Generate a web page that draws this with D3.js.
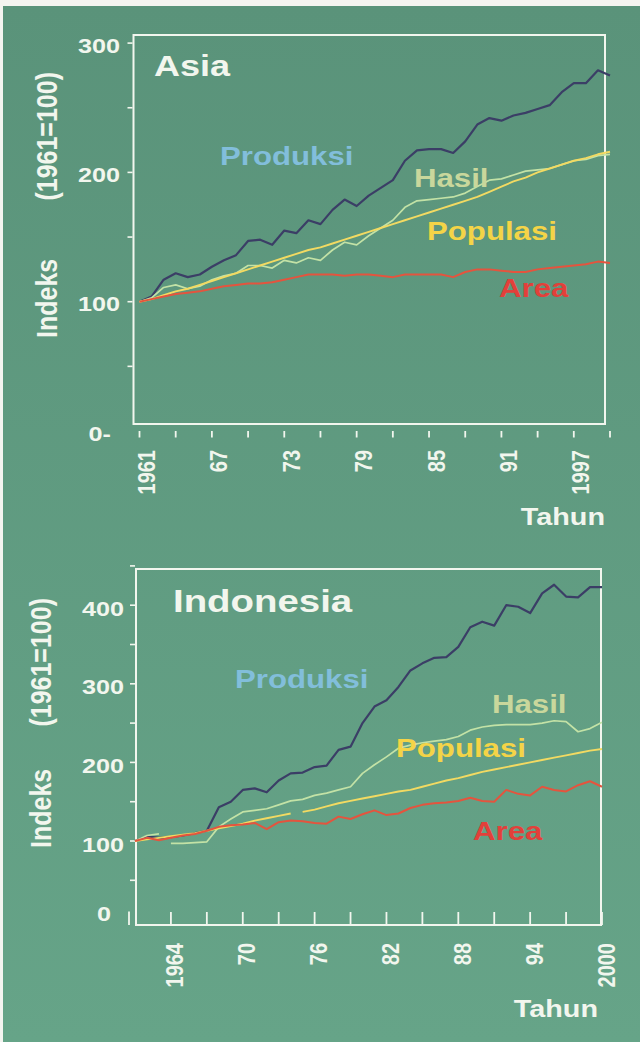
<!DOCTYPE html>
<html>
<head>
<meta charset="utf-8">
<script src="https://cdn.jsdelivr.net/npm/d3@7/dist/d3.min.js"></script>
<style>
  body { margin: 0; background: #f4f4f0; }
  svg { display: block; }
  text { font-family: "Liberation Sans", Arial, sans-serif; font-weight: bold; }
</style>
</head>
<body>
<div id="chart"></div>
<script>
// data (index, 1961 = 100)
const years = [1961,1962,1963,1964,1965,1966,1967,1968,1969,1970,
               1971,1972,1973,1974,1975,1976,1977,1978,1979,1980,
               1981,1982,1983,1984,1985,1986,1987,1988,1989,1990,
               1991,1992,1993,1994,1995,1996,1997,1998,1999,2000];

const asia_produksi = [100,104,117,122,119,121,127,132,136,147,
                       148,144,155,153,163,160,171,179,174,182,
                       188,194,209,217,218,218,215,224,237,242,
                       240,244,246,249,252,262,269,269,279,275];
const asia_hasil    = [100,103,111,113,110,112,117,120,122,128,
                       128,126,132,130,134,132,140,146,144,151,
                       157,163,173,178,179,180,181,184,189,194,
                       195,198,201,202,203,206,209,210,213,214];
const asia_populasi = [100,102,105,108,110,113,116,119,122,125,
                       128,131,134,137,140,142,145,148,151,154,
                       157,160,163,166,169,172,175,178,181,185,
                       189,193,196,200,203,206,209,211,214,216];
const asia_area     = [100,102,104,106,107,108,110,112,113,114,
                       114,115,117,119,121,121,121,120,121,121,
                       120,119,121,121,121,121,119,123,125,125,
                       124,123,123,125,126,127,128,129,131,130];

const indo_produksi = [100,106,104,105,107,110,113,143,150,165,
                       167,162,177,186,187,194,196,216,220,250,
                       271,279,296,317,326,333,334,347,372,379,
                       374,400,398,390,415,426,411,410,423,423];
const indo_hasil    = [100,107,109,97,97,98,99,118,128,137,
                       139,141,146,151,153,158,161,165,169,186,
                       197,207,218,222,225,227,229,233,241,245,
                       247,248,248,248,250,253,252,239,243,251];
const indo_populasi = [100,102,104,106,108,110,113,116,119,122,
                       126,129,132,135,137,140,144,148,151,154,
                       157,160,163,165,169,173,177,180,184,188,
                       191,194,197,200,203,206,209,212,215,217];
const indo_area     = [100,104,101,104,107,109,113,118,120,121,
                       123,115,124,126,125,123,122,131,128,134,
                       139,133,135,142,146,148,149,151,155,151,
                       150,165,160,158,169,165,163,171,176,169];

// years after which a line is broken in the original
const indo_hasil_breaks = [1963];
const indo_populasi_breaks = [1974];

// ticks and labels
const asia_x_ticks = [1961,1964,1967,1970,1973,1976,1979,1982,1985,1988,1991,1994,1997,2000];
const asia_x_label_years = [1961,1967,1973,1979,1985,1991,1997];
const asia_x_labels = ["1961","67","73","79","85","91","1997"];
const asia_y_ticks = [50,100,150,200,250,300];
const asia_y_labels = [0,100,200,300];

const indo_x_ticks = [1964,1967,1970,1973,1976,1979,1982,1985,1988,1991,1994,1997,2000];
const indo_x_label_years = [1964,1970,1976,1982,1988,1994,2000];
const indo_x_labels = ["1964","70","76","82","88","94","2000"];
const indo_y_ticks = [50,100,150,200,250,300,350,400,450];
const indo_y_labels = [0,100,200,300,400];

const series_names = ["Produksi","Hasil","Populasi","Area"];

// styles
const W = 640, H = 1042;
const SX = 1.2;   // the lettering in the scan is wider than normal
const TXT = "#f2f6ee";
const line_colors  = {Produksi: "#3b3e66", Hasil: "#c3e2a6", Populasi: "#f2da62", Area: "#e4543e"};
const label_colors = {Produksi: "#82bedb", Hasil: "#c9d79c", Populasi: "#f4d447", Area: "#e2403a"};
const line_widths  = {Produksi: 2.2, Hasil: 1.7, Populasi: 1.9, Area: 2};

const svg = d3.select("#chart").append("svg").attr("width", W).attr("height", H);

const grad = svg.append("defs").append("linearGradient")
    .attr("id", "bg").attr("x1", 0).attr("y1", 0).attr("x2", 0).attr("y2", 1);
grad.append("stop").attr("offset", "0%").attr("stop-color", "#5a937a");
grad.append("stop").attr("offset", "100%").attr("stop-color", "#66a488");

svg.append("rect").attr("x", 3).attr("y", 6).attr("width", W - 3).attr("height", H - 6).attr("fill", "url(#bg)");

function stretchText(g, str, x, y, o) {
    return g.append("text")
        .attr("transform", `translate(${x},${y}) scale(${SX},1)` + (o.rotate ? " rotate(-90)" : ""))
        .attr("text-anchor", o.anchor || "start")
        .attr("font-size", o.size)
        .attr("fill", o.fill || TXT)
        .text(str);
}

function splitSegments(values, breaks) {
    let segs = [[]];
    values.forEach((v, i) => {
        segs[segs.length - 1].push({year: years[i], v: v});
        if (breaks.includes(years[i])) segs.push([]);
    });
    return segs;
}

let drawPanel = function(cfg) {
    const g = svg.append("g");
    const x = d3.scaleLinear().domain([1961, 2000]).range(cfg.xRange);
    const y = d3.scaleLinear().domain([0, cfg.yMax]).range(cfg.yRange);

    // frame
    g.append("rect")
        .attr("x", cfg.frame[0]).attr("y", cfg.frame[1])
        .attr("width", cfg.frame[2] - cfg.frame[0]).attr("height", cfg.frame[3] - cfg.frame[1])
        .attr("fill", "none").attr("stroke", TXT).attr("stroke-width", 2);

    // y ticks
    g.selectAll(".ytick").data(cfg.yTicks).enter().append("line")
        .attr("x1", cfg.frame[0] - 6).attr("x2", cfg.frame[0] - 1)
        .attr("y1", d => y(d)).attr("y2", d => y(d))
        .attr("stroke", TXT).attr("stroke-width", 1.6);

    cfg.yLabels.forEach(d => {
        if (d === 0) {
            stretchText(g, cfg.zeroText, cfg.zeroX, y(0) + cfg.zeroDy, {size: 21, anchor: "end"});
        } else {
            stretchText(g, d, cfg.yLabelX, y(d) + cfg.yLabelDy, {size: 21, anchor: "end"});
        }
    });
    if (cfg.zeroBar) {
        g.append("line").attr("x1", cfg.zeroBar).attr("x2", cfg.zeroBar)
            .attr("y1", y(0) - 8).attr("y2", cfg.frame[3])
            .attr("stroke", TXT).attr("stroke-width", 1.8);
    }

    // x ticks
    g.selectAll(".xtick").data(cfg.xTicks).enter().append("line")
        .attr("x1", d => x(d)).attr("x2", d => x(d))
        .attr("y1", cfg.xTickY[0]).attr("y2", cfg.xTickY[1])
        .attr("stroke", TXT).attr("stroke-width", 1.8);

    cfg.xLabelYears.forEach((yr, i) => {
        stretchText(g, cfg.xLabels[i], x(yr) + cfg.xLabelDx, cfg.xLabelY, {size: 20, anchor: "end", rotate: true});
    });

    // lines
    const line = d3.line().x(d => x(d.year)).y(d => y(d.v));
    series_names.forEach(name => {
        const segs = splitSegments(cfg.data[name], cfg.breaks[name] || []);
        segs.forEach(seg => {
            g.append("path").datum(seg)
                .attr("d", line)
                .attr("fill", "none")
                .attr("stroke", line_colors[name])
                .attr("stroke-width", line_widths[name])
                .attr("stroke-linejoin", "round");
        });
    });

    // series labels
    series_names.forEach(name => {
        const p = cfg.labelPos[name];
        stretchText(g, name, p[0], p[1], {size: 26, fill: label_colors[name]});
    });

    // titles
    stretchText(g, cfg.title, cfg.titlePos[0], cfg.titlePos[1], {size: cfg.titleSize});
    stretchText(g, "Tahun", cfg.tahunPos[0], cfg.tahunPos[1], {size: 24, anchor: "end"});
    stretchText(g, "Indeks", cfg.yTitleX, cfg.yTitleBottom, {size: 25, rotate: true});
    stretchText(g, "(1961=100)", cfg.yTitleX, cfg.yTitleTop, {size: 25, rotate: true, anchor: "end"});
};

drawPanel({
    title: "Asia", titlePos: [154, 76], titleSize: 30,
    frame: [133.5, 35, 605, 424],
    xRange: [139.5, 610], yMax: 300, yRange: [431, 43.1],
    yTicks: asia_y_ticks, yLabels: asia_y_labels, yLabelX: 120, yLabelDy: 9.5,
    zeroText: "0-", zeroX: 111, zeroDy: 9.5, zeroBar: null,
    xTicks: asia_x_ticks, xTickY: [431, 437.5],
    xLabelYears: asia_x_label_years, xLabels: asia_x_labels, xLabelDx: 15.5, xLabelY: 450,
    data: {Produksi: asia_produksi, Hasil: asia_hasil, Populasi: asia_populasi, Area: asia_area},
    breaks: {},
    labelPos: {Produksi: [220, 165], Hasil: [414, 187], Populasi: [427, 240], Area: [499, 297]},
    tahunPos: [605, 525],
    yTitleX: 57, yTitleBottom: 338, yTitleTop: 72
});

drawPanel({
    title: "Indonesia", titlePos: [173, 612], titleSize: 32,
    frame: [136, 569, 601, 925],
    xRange: [135, 602], yMax: 400, yRange: [919.6, 605.2],
    yTicks: indo_y_ticks, yLabels: indo_y_labels, yLabelX: 124, yLabelDy: 10.5,
    zeroText: "0", zeroX: 111, zeroDy: 1, zeroBar: 129,
    xTicks: indo_x_ticks, xTickY: [912, 925],
    xLabelYears: indo_x_label_years, xLabels: indo_x_labels, xLabelDx: 12.5, xLabelY: 943,
    data: {Produksi: indo_produksi, Hasil: indo_hasil, Populasi: indo_populasi, Area: indo_area},
    breaks: {Hasil: indo_hasil_breaks, Populasi: indo_populasi_breaks},
    labelPos: {Produksi: [235, 688], Hasil: [492, 713], Populasi: [396, 757], Area: [473, 840]},
    tahunPos: [598, 1017],
    yTitleX: 51, yTitleBottom: 848, yTitleTop: 598
});
</script>
</body>
</html>
